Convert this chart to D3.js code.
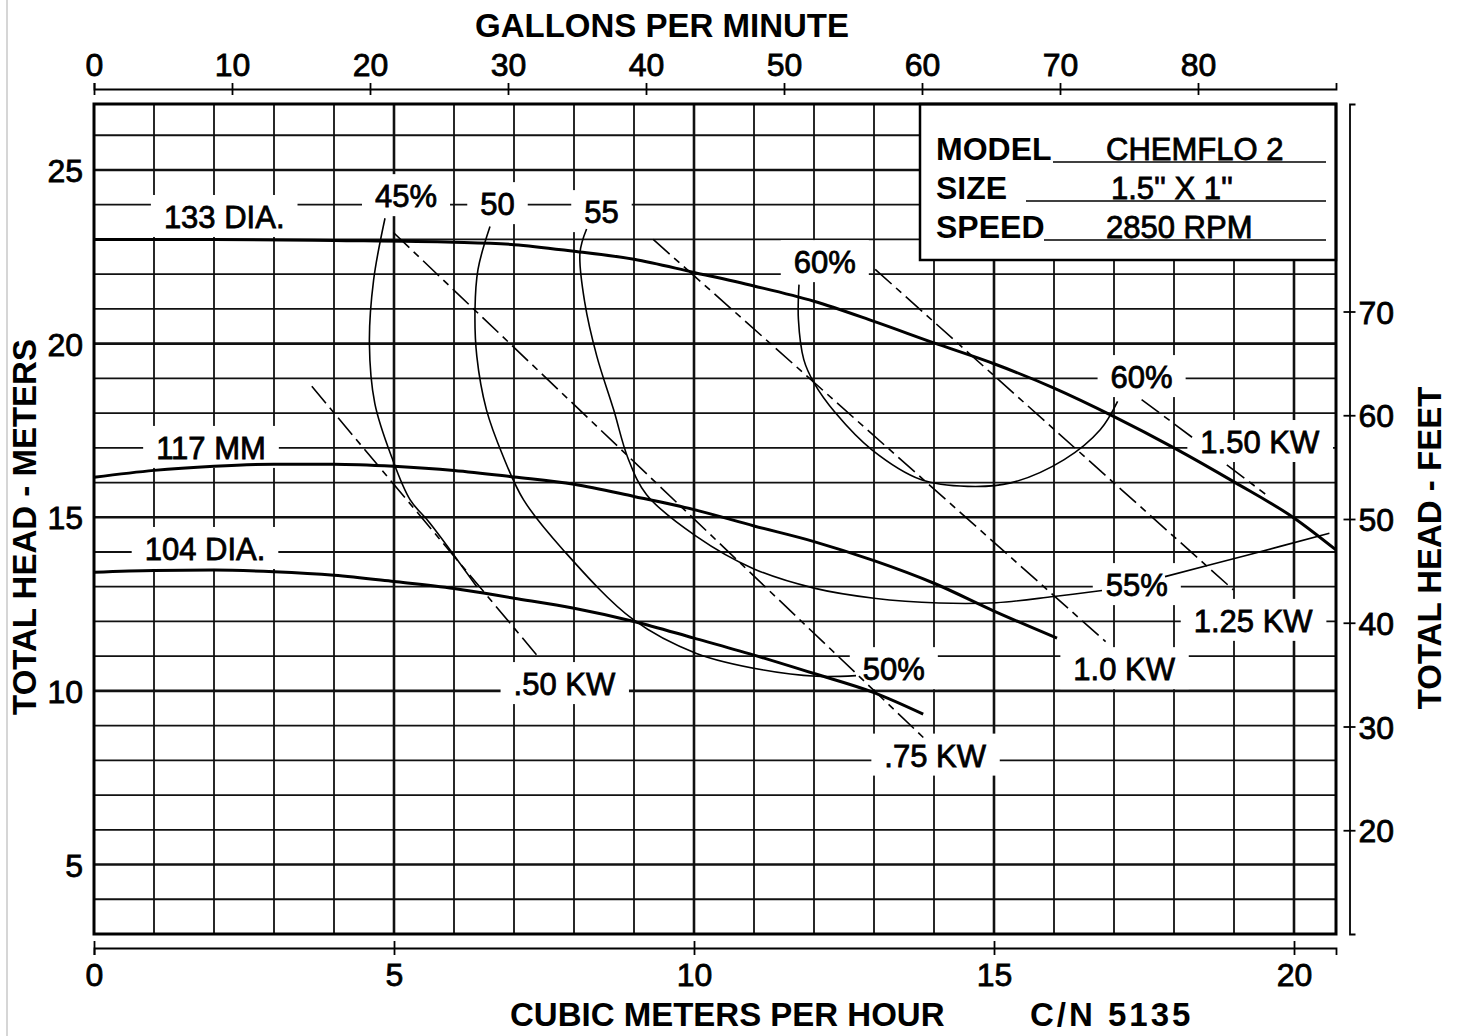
<!DOCTYPE html>
<html>
<head>
<meta charset="utf-8">
<script src="https://cdn.jsdelivr.net/npm/d3@7/dist/d3.min.js"></script>
<style>
  html, body { margin:0; padding:0; background:#fff; }
  svg text { font-family: "Liberation Sans", Arial, Helvetica, sans-serif; fill:#000; }
</style>
</head>
<body>
<svg id="chart" width="1461" height="1036"></svg>
<script>
// ---- tick values ----
var flowTicks = [0, 5, 10, 15, 20];                  // m3/h
var gpmTicks  = [0, 10, 20, 30, 40, 50, 60, 70, 80]; // US gpm
var headTicks = [5, 10, 15, 20, 25];                 // metres
var feetTicks = [20, 30, 40, 50, 60, 70];            // feet

// ---- head curves, [flow m3/h, head m] ----
var head133 = [[0,23.0],[2,23.0],[4,22.97],[6,22.92],[7,22.85],[8,22.66],[9,22.43],[10,22.05],
  [11,21.66],[12,21.22],[13,20.64],[14,20.02],[15,19.42],[16,18.72],[17,17.9],[18,17.0],
  [19,16.02],[20,14.98],[20.7,14.06]];
var head117 = [[0,16.15],[1,16.35],[2,16.47],[3,16.53],[4,16.53],[5,16.47],[6,16.35],[7,16.16],
  [8,15.95],[9,15.6],[10,15.22],[11,14.75],[12,14.3],[13,13.75],[14,13.1],[15,12.3],[16.05,11.52]];
var head104 = [[0,13.42],[1,13.47],[2,13.48],[3,13.43],[4,13.33],[5,13.15],[6,12.95],[7,12.67],
  [8,12.38],[9,12.0],[10,11.52],[11,11.03],[12,10.5],[13,9.95],[13.82,9.33]];

// ---- efficiency curves ----
var eff45 = [[4.85,23.61],[4.66,21.83],[4.59,20.01],[4.68,18.28],[4.96,16.74],[5.27,15.5],[5.6,14.83],[6.38,13.0]];
var eff50 = [[6.6,23.37],[6.4,22.14],[6.35,20.98],[6.38,19.64],[6.54,18.1],[6.82,16.75],[7.16,15.5],
  [7.82,14.06],[8.99,12.05],[10.04,11.08],[11.16,10.6],[12.04,10.42],[12.7,10.44]];
var eff55a = [[8.21,23.3],[8.1,22.62],[8.18,21.18],[8.38,19.64],[8.66,18.1],[8.9,16.7],[9.21,15.65],
  [10.04,14.45],[10.99,13.52],[12.0,12.96],[13,12.67],[14.08,12.53],[15.04,12.54],[16,12.72],[16.8,12.89]];
var eff55b = [[17.85,13.29],[19.2,13.9],[20.59,14.54]];
var eff60 = [[11.75,21.7],[11.74,20.7],[11.83,19.54],[12.0,18.87],[12.36,18.0],[12.96,16.95],[13.79,16.08],
  [14.56,15.89],[15.28,15.99],[16.17,16.66],[16.77,17.52],[17.06,18.34]];

// ---- power lines ----
var kw050 = [[3.63,18.77],[7.38,11.03]];
var kw075 = [[4.99,23.2],[13.87,8.58]];
var kw100 = [[9.32,23.0],[16.86,11.42]];
var kw125 = [[13.02,22.14],[18.99,12.91]];
var kw150a = [[17.46,18.39],[18.32,17.28]];
var kw150b = [[18.88,16.51],[19.52,15.67]];

// ---- curve labels [text, flow, head] (baseline centre) ----
var curveLabels = [
  ["133 DIA.", 2.17, 23.33], ["117 MM", 1.95, 16.68], ["104 DIA.", 1.85, 13.77],
  ["45%", 5.2, 23.93], ["50", 6.725, 23.70], ["55", 8.458, 23.47],
  ["60%", 12.18, 22.03], ["60%", 17.46, 18.72], ["55%", 17.38, 12.73], ["50%", 13.33, 10.31],
  [".50 KW", 7.84, 9.88], [".75 KW", 14.02, 7.82], ["1.0 KW", 17.17, 10.31],
  ["1.25 KW", 19.32, 11.70], ["1.50 KW", 19.43, 16.85]
];

var infoRows = [["MODEL", "CHEMFLO 2"], ["SIZE", "1.5'' X 1''"], ["SPEED", "2850 RPM"]];

var W = 1461, H = 1036;
var svg = d3.select("#chart");
svg.append("rect").attr("width", W).attr("height", H).attr("fill", "#fff");
svg.append("line").attr("x1", 7).attr("x2", 7).attr("y1", 0).attr("y2", H)
   .attr("stroke", "#d6d6d6").attr("stroke-width", 2);

var x  = d3.scaleLinear().domain([0, 20.7]).range([94, 1336]);
var y  = d3.scaleLinear().domain([3, 26.9]).range([934, 104]);
var xg = d3.scaleLinear().domain([0, 90]).range([94, 1336]);
var yf = d3.scaleLinear().domain([10, 90]).range([934, 104]);

// grid
var grid = svg.append("g");
grid.selectAll("line.gv").data(d3.range(1, 21)).join("line").attr("class", "gv")
    .attr("x1", d => x(d)).attr("x2", d => x(d)).attr("y1", y(3)).attr("y2", y(26.9))
    .attr("stroke", "#111").attr("stroke-width", d => d % 5 == 0 ? 2.6 : 1.8);
grid.selectAll("line.gh").data(d3.range(4, 27)).join("line").attr("class", "gh")
    .attr("y1", d => y(d)).attr("y2", d => y(d)).attr("x1", x(0)).attr("x2", x(20.7))
    .attr("stroke", "#111").attr("stroke-width", d => d % 5 == 0 ? 2.6 : 1.8);

// info box
var box = svg.append("g");
box.append("rect").attr("x", 920).attr("y", 104).attr("width", 1336 - 920).attr("height", 156)
   .attr("fill", "#fff").attr("stroke", "#000").attr("stroke-width", 2.5);
var rulesX = [1053, 1026, 1044];
infoRows.forEach(function(r, i) {
  var by = 160 + i * 39;
  box.append("line").attr("x1", rulesX[i]).attr("x2", 1326).attr("y1", by + 2).attr("y2", by + 2)
     .attr("stroke", "#000").attr("stroke-width", 1.6);
  box.append("text").attr("x", 936).attr("y", by).attr("font-size", 32).attr("font-weight", "bold").text(r[0]);
  box.append("text").attr("x", i == 1 ? 1111 : 1106).attr("y", by).attr("font-size", 31)
     .attr("stroke", "#000").attr("stroke-width", 0.8).text(r[1]);
});

// plot frame
svg.append("rect").attr("x", x(0)).attr("y", y(26.9)).attr("width", x(20.7) - x(0)).attr("height", y(3) - y(26.9))
   .attr("fill", "none").attr("stroke", "#000").attr("stroke-width", 3);

// axes
function styleAxis(g, size) {
  g.selectAll("text").attr("font-size", size).attr("font-family", null).attr("fill", "#000")
   .attr("stroke", "#000").attr("stroke-width", 0.8);
  g.selectAll("path, line").attr("stroke", "#000").attr("stroke-width", 1.8);
}
var axB = svg.append("g").attr("transform", "translate(0,948)")
   .call(d3.axisBottom(x).tickValues(flowTicks).tickSizeOuter(0).tickSize(7).tickPadding(8));
axB.selectAll(".tick line").attr("y1", -7);
styleAxis(axB, 32);

var axT = svg.append("g").attr("transform", "translate(0,89)")
   .call(d3.axisTop(xg).tickValues(gpmTicks).tickSizeOuter(0).tickSize(6).tickPadding(7));
axT.selectAll(".tick line").attr("y1", 6);
styleAxis(axT, 32);

var axL = svg.append("g").attr("transform", "translate(94,0)")
   .call(d3.axisLeft(y).tickValues(headTicks).tickSize(0).tickPadding(11));
axL.select(".domain").remove();
styleAxis(axL, 32);
axL.selectAll("text").attr("dy", "0.36em");

var axR = svg.append("g").attr("transform", "translate(1349.5,0)")
   .call(d3.axisRight(yf).tickValues(feetTicks).tickSizeOuter(0).tickSize(6).tickPadding(3));
axR.selectAll(".tick line").attr("x1", -6);
styleAxis(axR, 32);
axR.selectAll("text").attr("dy", "0.36em");

// titles
svg.append("text").attr("x", 662).attr("y", 37).attr("text-anchor", "middle")
   .attr("font-size", 33).attr("font-weight", "bold").text("GALLONS PER MINUTE");
svg.append("text").attr("x", 510).attr("y", 1026)
   .attr("font-size", 33).attr("font-weight", "bold").text("CUBIC METERS PER HOUR");
svg.append("text").attr("x", 1030).attr("y", 1026).attr("letter-spacing", 3)
   .attr("font-size", 33).attr("font-weight", "bold").text("C/N 5135");
svg.append("text").attr("transform", "translate(36,527) rotate(-90)").attr("text-anchor", "middle")
   .attr("font-size", 33).attr("font-weight", "bold").text("TOTAL HEAD - METERS");
svg.append("text").attr("transform", "translate(1441,548) rotate(-90)").attr("text-anchor", "middle")
   .attr("font-size", 33).attr("font-weight", "bold").text("TOTAL HEAD - FEET");

// label backgrounds go under the curves
var labelBg = svg.append("g");
var curves = svg.append("g").attr("fill", "none").attr("stroke", "#000");
var labels = svg.append("g");

var smooth = d3.line().x(d => x(d[0])).y(d => y(d[1])).curve(d3.curveMonotoneX);
var loose  = d3.line().x(d => x(d[0])).y(d => y(d[1])).curve(d3.curveCatmullRom.alpha(0.5));
var straight = d3.line().x(d => x(d[0])).y(d => y(d[1]));

[head133, head117, head104].forEach(function(c) {
  curves.append("path").attr("d", smooth(c)).attr("stroke-width", 3);
});
[eff45, eff50, eff55a, eff55b, eff60].forEach(function(c) {
  curves.append("path").attr("d", loose(c)).attr("stroke-width", 1.6);
});
[kw050, kw075, kw100, kw125, kw150a, kw150b].forEach(function(c) {
  curves.append("path").attr("d", straight(c)).attr("stroke-width", 1.6)
        .attr("stroke-dasharray", "22,6,7,6");
});

curveLabels.forEach(function(l) {
  var t = labels.append("text").attr("x", x(l[1])).attr("y", y(l[2])).attr("text-anchor", "middle")
     .attr("font-size", 31).attr("stroke", "#000").attr("stroke-width", 0.8).text(l[0]);
  var b = t.node().getBBox();
  labelBg.append("rect").attr("x", b.x - 13).attr("y", b.y - 5).attr("width", b.width + 26)
     .attr("height", b.height + 7).attr("fill", "#fff");
});
</script>
</body>
</html>
